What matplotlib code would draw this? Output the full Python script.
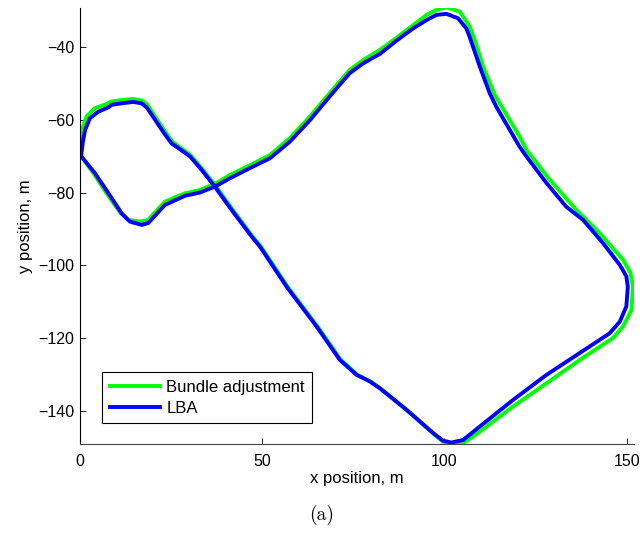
import matplotlib
matplotlib.use('Agg')
import matplotlib.pyplot as plt

plt.rcParams['font.family'] = ['Liberation Sans', 'DejaVu Sans']

# LBA trajectory (m)
lba_x = [0.3, 0.8, 1.4, 2.7, 5.0, 7.8, 8.7, 11.4, 14.6, 16.9, 18.3, 20.6, 22.8, 25.1, 27.0,
         30.2, 33.4, 37.0, 41.6, 47.1, 49.4, 56.7, 64.9, 71.3, 75.9, 79.5, 82.3, 89.6, 96.9,
         99.6, 101.9, 105.1, 109.7, 118.8, 128.0, 137.1, 145.3, 148.1, 149.9, 150.3, 149.9,
         148.1, 143.5, 138.0, 133.4, 128.0, 122.5, 120.6, 114.2, 112.4, 109.7, 106.9, 106.0,
         103.7, 100.5, 97.8, 95.1, 91.4, 86.8, 82.3, 77.7, 74.0, 68.5, 63.1, 57.6, 52.1, 46.6,
         41.1, 37.0, 32.9, 28.8, 23.3, 18.7, 16.9, 13.7, 11.4, 7.8, 4.1, 0.3]
lba_y = [-70.0, -66.0, -62.8, -59.6, -57.8, -56.6, -55.9, -55.5, -55.1, -55.5, -56.6, -60.0,
         -63.3, -66.5, -67.8, -70.1, -73.8, -78.4, -84.8, -92.1, -94.9, -105.9, -116.8, -126.0,
         -130.1, -131.9, -133.8, -139.7, -146.1, -148.2, -148.7, -148.0, -144.3, -137.0, -130.1,
         -124.1, -118.7, -115.5, -111.3, -105.9, -103.0, -99.9, -93.9, -87.5, -83.9, -77.4,
         -70.1, -67.4, -56.4, -52.7, -45.4, -37.2, -34.9, -32.1, -30.9, -31.2, -32.6, -34.9,
         -38.3, -41.9, -44.5, -47.2, -53.6, -60.1, -66.0, -70.6, -73.3, -76.1, -78.4, -80.0,
         -80.9, -83.4, -88.4, -88.9, -88.0, -85.7, -80.2, -74.7, -70.0]

# Bundle adjustment trajectory (m)
ba_x = [0.0, 0.2, 0.5, 1.8, 4.1, 7.3, 8.5, 11.4, 14.6, 16.9, 18.5, 20.9, 23.1, 25.4, 27.3,
        30.4, 33.6, 37.2, 41.8, 47.3, 49.6, 56.9, 65.1, 71.5, 76.1, 79.7, 82.5, 89.8, 97.2,
        100.0, 102.5, 105.1, 109.7, 118.8, 128.0, 137.1, 146.2, 149.0, 151.3, 151.7, 151.0,
        149.0, 142.6, 136.2, 128.9, 122.5, 120.6, 113.8, 110.6, 108.3, 106.9, 104.2, 100.5,
        97.8, 95.1, 91.4, 86.8, 82.3, 77.7, 74.0, 68.5, 63.1, 57.6, 52.1, 46.6, 41.1, 37.0,
        32.9, 28.8, 23.3, 18.7, 16.5, 13.2, 11.0, 7.3, 3.7, 0.0]
ba_y = [-69.6, -66.0, -62.8, -59.1, -56.8, -55.7, -55.0, -54.6, -54.3, -54.7, -55.9, -59.6,
        -62.9, -66.1, -67.5, -69.8, -73.6, -78.2, -84.6, -92.0, -94.8, -105.8, -116.7, -125.9,
        -130.1, -131.9, -133.9, -139.9, -146.5, -148.8, -149.4, -148.9, -145.7, -138.8, -132.4,
        -126.0, -120.0, -116.8, -112.3, -105.8, -102.0, -98.5, -91.2, -84.8, -76.5, -68.3,
        -64.6, -53.2, -45.4, -38.1, -34.4, -30.3, -29.1, -29.8, -31.2, -34.0, -37.5, -40.8,
        -43.6, -46.3, -52.7, -59.1, -65.0, -69.7, -72.5, -75.2, -77.6, -79.3, -80.2, -82.5,
        -87.5, -88.0, -87.5, -85.5, -80.2, -74.7, -69.6]

x_ticks = [0, 50, 100, 150]
y_ticks = [-40, -60, -80, -100, -120, -140]

fig = plt.figure(figsize=(6.44, 5.33), dpi=100)
ax = fig.add_axes([80 / 644, 89 / 533, 554 / 644, 436 / 533])

ax.plot(ba_x, ba_y, color='#00ff00', lw=2.8, solid_joinstyle='round', label='Bundle adjustment')
ax.plot(lba_x, lba_y, color='#0000ff', lw=2.8, solid_joinstyle='round', label='LBA')

ax.set_xlim(0, 152)
ax.set_ylim(-149.1, -29.3)
ax.set_xticks(x_ticks)
ax.set_yticks(y_ticks)
ax.set_yticklabels(['\u2212%d' % abs(v) for v in y_ticks])
ax.tick_params(direction='in', length=4, width=0.6, labelsize=11.5)
ax.tick_params(axis='x', pad=7)
ax.tick_params(axis='y', pad=4)
ax.spines['top'].set_visible(False)
ax.spines['right'].set_visible(False)
ax.spines['left'].set_linewidth(0.8)
ax.spines['bottom'].set_linewidth(0.8)
ax.spines['bottom'].set_color('#444444')

ax.set_xlabel('x position, m', fontsize=12, labelpad=2)
ax.set_ylabel('y position, m', fontsize=12, labelpad=4)

leg = ax.legend(loc='lower left', bbox_to_anchor=(0.04, 0.048), borderaxespad=0,
                fancybox=False, edgecolor='black', fontsize=12, handlelength=3.05,
                handletextpad=0.35, labelspacing=0.35, borderpad=0.45, framealpha=1)
leg.get_frame().set_linewidth(0.8)

fig.text(0.5, 1 - 515 / 533, '(a)', ha='center', va='center', fontsize=14,
         family=['cmr10', 'DejaVu Serif'])

fig.savefig('out.png', dpi=100)
